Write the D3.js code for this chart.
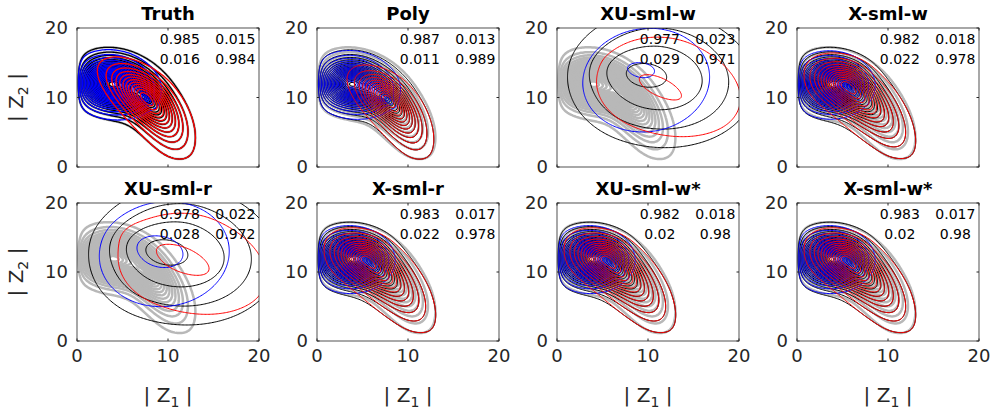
<!DOCTYPE html>
<html>
<head>
<meta charset="utf-8">
<script src="https://cdnjs.cloudflare.com/ajax/libs/d3/7.8.5/d3.min.js"></script>
<style>
body { margin: 0; background: #fff; }
text { font-family: "DejaVu Sans", sans-serif; fill: #262626; }
</style>
</head>
<body>
<script>
var titles = ["Truth", "Poly", "XU-sml-w", "X-sml-w", "XU-sml-r", "X-sml-r", "XU-sml-w*", "X-sml-w*"];
var confusion = [
    [0.985, 0.015, 0.016, 0.984],
    [0.987, 0.013, 0.011, 0.989],
    [0.977, 0.023, 0.029, 0.971],
    [0.982, 0.018, 0.022, 0.978],
    [0.978, 0.022, 0.028, 0.972],
    [0.983, 0.017, 0.022, 0.978],
    [0.982, 0.018, 0.02, 0.98],
    [0.983, 0.017, 0.02, 0.98]
];
var xTicks = [0, 10, 20];
var yTicks = [0, 10, 20];

// density components :
// [mean x, mean y, scale back, scale front, scale across, angle (deg), bend, weight, shape]
var blueComps = [
    [[3.7, 11.9, 2.7, 3.0, 2.55, -30, 0, 21, 1.7], [7.3, 10.0, 1.0, 1.0, 0.5, -40, 0, 3, 1.5]],
    [[3.7, 11.9, 2.6, 2.95, 2.5, -30, 0, 21, 1.7], [7.3, 10.0, 1.0, 1.0, 0.5, -40, 0, 3, 1.5]],
    [[9.8, 12.5, 8.6, 8.6, 9.4, -20, 0, 1.9, 2], [8.8, 14.3, 2.2, 2.2, 1.3, -10, 0, 0.35, 2]],
    [[3.6, 11.8, 2.6, 2.6, 2.55, -25, 0, 21, 1.7]],
    [[9.6, 12.6, 8.8, 8.8, 9.6, -20, 0, 1.9, 2], [8.6, 13.3, 3.4, 3.4, 2.3, -30, 0, 0.5, 2]],
    [[3.6, 11.8, 2.6, 2.6, 2.55, -25, 0, 21, 1.7]],
    [[3.6, 11.8, 2.6, 2.6, 2.55, -25, 0, 21, 1.7]],
    [[3.6, 11.8, 2.6, 2.6, 2.55, -25, 0, 21, 1.7]]
];
var redComps = [
    [[7.6, 9.9, 4.15, 5.6, 2.0, -56, 0.0135, 13, 1.7]],
    [[7.8, 9.6, 3.45, 5.4, 1.83, -57, 0.014, 13, 1.7]],
    [[11.5, 11.8, 9.5, 12.0, 8.8, -30, 0, 1.8, 2], [11.2, 11.5, 4.0, 4.0, 1.4, -35, 0, 0.5, 2]],
    [[5.4, 11.7, 3.1, 7.0, 2.25, -48, 0.012, 14, 1.7]],
    [[11.8, 11.5, 9.6, 12.4, 9.0, -30, 0, 1.8, 2], [11.0, 12.2, 5.2, 5.2, 2.0, -33, 0, 0.55, 2]],
    [[5.4, 11.7, 3.1, 7.0, 2.25, -48, 0.012, 14, 1.7]],
    [[5.4, 11.7, 3.1, 7.0, 2.25, -48, 0.012, 14, 1.7]],
    [[5.4, 11.7, 3.1, 7.0, 2.25, -48, 0.012, 14, 1.7]]
];
// null : black is the sum of blue and red
var blackComps = [
    null,
    null,
    [[11.0, 12.8, 9.0, 10.0, 9.0, -25, 0, 3.5, 2.6], [9.1, 13.4, 4.0, 4.0, 2.6, -15, 0, 0.9, 2]],
    null,
    [[11.0, 12.6, 8.8, 10.4, 9.2, -25, 0, 3.5, 2.6], [9.0, 13.1, 4.4, 4.4, 2.8, -20, 0, 0.9, 2]],
    null,
    null,
    null
];
var edgeDecay = [0.5, 0.5, 0, 0.5, 0, 0.5, 0.5, 0.5];
var levels = d3.range(1, 60);

var svg = d3.select("body").append("svg").attr("width", 993).attr("height", 413);

var colLeft = [77, 317, 557, 797];
var rowTop = [28, 203];
var pw = 182, ph = 139;
var nGrid = 161, gMin = -2, gMax = 22;
var gStep = (gMax - gMin) / (nGrid - 1);

function kern(c, x, y) {
    var a = c[5] * Math.PI / 180;
    var dx = x - c[0], dy = y - c[1];
    var u = dx * Math.cos(a) + dy * Math.sin(a);
    var v = -dx * Math.sin(a) + dy * Math.cos(a) + c[6] * u * u;
    u = u / (u < 0 ? c[2] : c[3]);
    v = v / c[4];
    return c[7] * Math.exp(-Math.pow(u * u + v * v, c[8] / 2));
}

function density(comps, edge) {
    var vals = new Array(nGrid * nGrid);
    for (var j = 0; j < nGrid; j++) {
        for (var i = 0; i < nGrid; i++) {
            var x = gMin + i * gStep, y = gMin + j * gStep;
            var s = 0;
            comps.forEach(function(c) { s += kern(c, x, y); });
            if (edge > 0) {
                s *= Math.max(0, 1 - Math.exp(-x / edge)) * Math.max(0, 1 - Math.exp(-y / edge));
            }
            vals[j * nGrid + i] = s;
        }
    }
    return vals;
}

function addGrids(a, b) {
    return a.map(function(v, i) { return v + b[i]; });
}

var truthMix = addGrids(density(blueComps[0], edgeDecay[0]), density(redComps[0], edgeDecay[0]));

function drawPanel(k) {
    var x0 = colLeft[k % 4], y0 = rowTop[Math.floor(k / 4)];
    var h = k < 4 ? ph : ph - 1;
    var x = d3.scaleLinear().domain([0, 20]).range([x0, x0 + pw]);
    var y = d3.scaleLinear().domain([0, 20]).range([y0 + h, y0]);
    var g = svg.append("g");

    svg.append("clipPath").attr("id", "clip" + k)
        .append("rect").attr("x", x0).attr("y", y0).attr("width", pw).attr("height", h);

    var proj = d3.geoTransform({
        point: function(px, py) {
            this.stream.point(x(gMin + (px - 0.5) * gStep), y(gMin + (py - 0.5) * gStep));
        }
    });
    var path = d3.geoPath(proj);
    var contours = d3.contours().size([nGrid, nGrid]).thresholds(levels);

    var blue = density(blueComps[k], edgeDecay[k]);
    var red = density(redComps[k], edgeDecay[k]);
    var black = blackComps[k] ? density(blackComps[k], edgeDecay[k]) : addGrids(blue, red);
    var lw = k == 0 ? 1.3 : 1;

    var cg = g.append("g").attr("clip-path", "url(#clip" + k + ")");
    var layers = [
        [truthMix, "#b8b8b8", 2.5],
        [black, "#000", lw],
        [blue, "#0000ff", lw],
        [red, "#ff0000", lw]
    ];
    layers.forEach(function(L) {
        cg.append("g").selectAll("path").data(contours(L[0])).enter().append("path")
            .attr("d", path).attr("fill", "none").attr("stroke", L[1])
            .attr("stroke-width", L[2]).attr("stroke-linejoin", "round");
    });

    // box and ticks
    g.append("rect").attr("x", x0).attr("y", y0).attr("width", pw).attr("height", h)
        .attr("fill", "none").attr("stroke", "#262626").attr("stroke-width", 0.8);
    xTicks.forEach(function(t) {
        g.append("line").attr("x1", x(t)).attr("x2", x(t)).attr("y1", y0 + h).attr("y2", y0 + h - 2.5).attr("stroke", "#262626");
        g.append("line").attr("x1", x(t)).attr("x2", x(t)).attr("y1", y0).attr("y2", y0 + 2.5).attr("stroke", "#262626");
    });
    yTicks.forEach(function(t) {
        g.append("line").attr("x1", x0).attr("x2", x0 + 2.5).attr("y1", y(t)).attr("y2", y(t)).attr("stroke", "#262626");
        g.append("line").attr("x1", x0 + pw).attr("x2", x0 + pw - 2.5).attr("y1", y(t)).attr("y2", y(t)).attr("stroke", "#262626");
        g.append("text").attr("x", x0 - 9).attr("y", y(t)).attr("dy", "0.36em")
            .attr("text-anchor", "end").attr("font-size", 18).text(t);
    });
    if (k >= 4) {
        xTicks.forEach(function(t) {
            g.append("text").attr("x", x(t)).attr("y", y0 + h + 21)
                .attr("text-anchor", "middle").attr("font-size", 18).text(t);
        });
        var xl = g.append("text").attr("x", x0 + pw / 2).attr("y", 402)
            .attr("text-anchor", "middle").attr("font-size", 20);
        xl.append("tspan").text("| Z");
        xl.append("tspan").attr("font-size", 14).attr("dy", 5).text("1");
        xl.append("tspan").attr("dy", -5).text(" |");
    }
    if (k % 4 == 0) {
        var yl = g.append("text").attr("transform", "translate(23," + (y0 + h / 2) + ") rotate(-90)")
            .attr("text-anchor", "middle").attr("font-size", 20);
        yl.append("tspan").text("| Z");
        yl.append("tspan").attr("font-size", 14).attr("dy", 5).text("2");
        yl.append("tspan").attr("dy", -5).text(" |");
    }

    g.append("text").attr("x", x0 + pw / 2).attr("y", y0 - 8)
        .attr("text-anchor", "middle").attr("font-size", 18).attr("font-weight", "bold")
        .style("fill", "#000").text(titles[k]);

    var cm = confusion[k];
    var cx = [11.3, 17.4], cy = [18.4, 15.5];
    for (var r = 0; r < 2; r++) {
        for (var c = 0; c < 2; c++) {
            g.append("text").attr("x", x(cx[c])).attr("y", y(cy[r])).attr("dy", "0.36em")
                .attr("text-anchor", "middle").attr("font-size", 14).style("fill", "#000")
                .text(cm[r * 2 + c]);
        }
    }
}

for (var k = 0; k < 8; k++) drawPanel(k);
</script>
</body>
</html>
